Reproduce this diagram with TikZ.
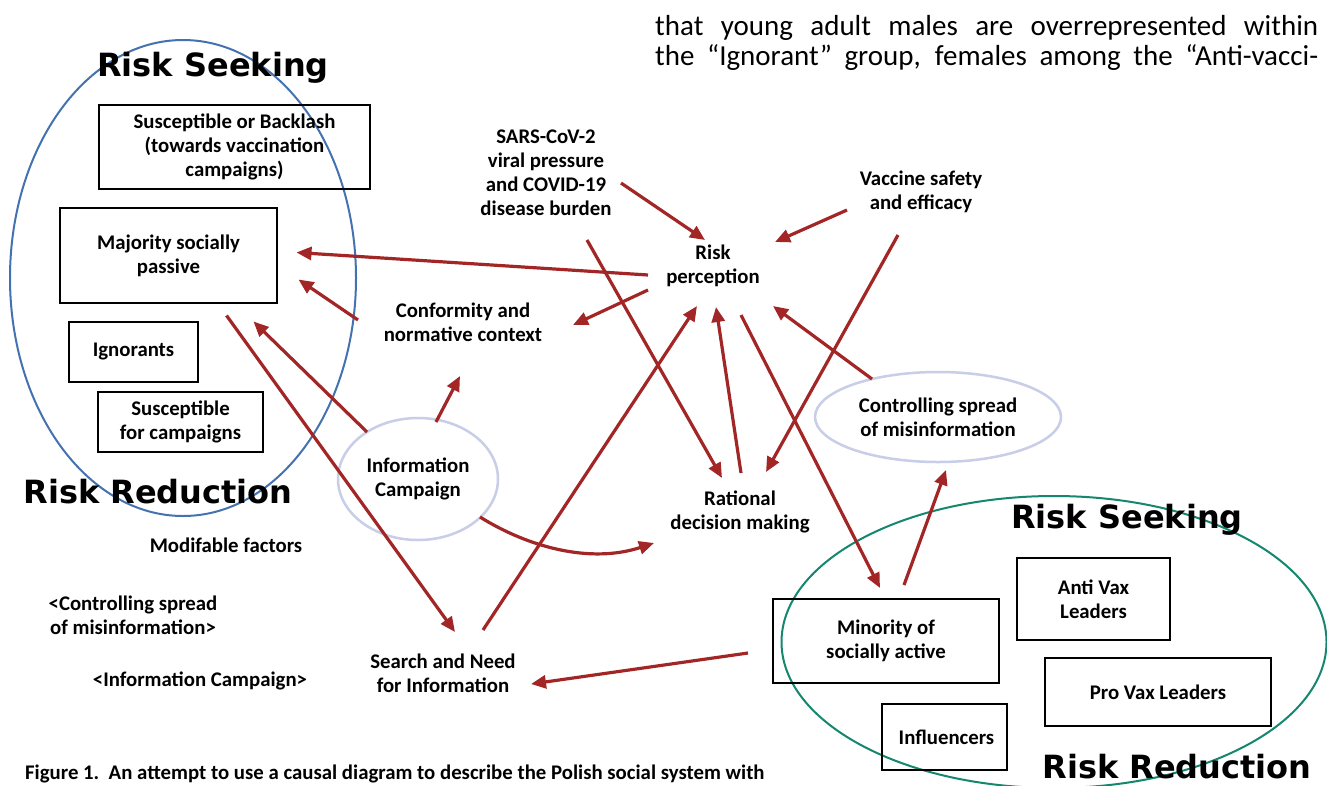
\documentclass[tikz,border=0pt]{standalone}
\usepackage{fontspec}
\setmainfont{Carlito}
\newfontfamily\vfont{DejaVu Sans}
\usetikzlibrary{arrows.meta,calc,shapes.geometric}
\definecolor{arrred}{RGB}{163,38,38}
\definecolor{blueell}{RGB}{68,114,176}
\definecolor{greenell}{RGB}{20,135,110}
\definecolor{lav}{RGB}{200,205,232}
\begin{document}
\begin{tikzpicture}[x=1pt,y=-1pt,
  lbl/.style={font=\bfseries\fontsize{20.8}{24}\selectfont, align=center, inner sep=0pt},
  box/.style={draw=black, line width=2.5pt, lbl},
  ttl/.style={font=\vfont\bfseries\fontsize{32}{36}\selectfont, inner sep=0pt},
  grp/.style={ellipse, line width=2pt, inner sep=0pt},
  oval/.style={ellipse, draw=lav, line width=2.5pt, lbl},
  arr/.style={draw=arrred, line width=3.2pt, -{Triangle[length=15pt,width=13pt]}}]
\useasboundingbox (0,0) rectangle (1327,785);
\fill[white] (0,0) rectangle (1327,785);

% groups
\node[grp, draw=blueell, minimum width=346pt, minimum height=476pt] (lgrp) at (183,278) {};
\node[grp, draw=greenell, minimum width=545pt, minimum height=292pt] (rgrp) at (1054,642) {};

% titles
\node[ttl] (rsl) at (213,68) {Risk Seeking};
\node[ttl] (rrl) at (158,492) {Risk Reduction};
\node[ttl] (rsr) at (1127,520) {Risk Seeking};
\node[ttl] (rrr) at (1177,767) {Risk Reduction};

% left boxes
\node[box, minimum width=271pt, minimum height=84pt] (ssb) at (234.5,147) {Susceptible or Backlash\\(towards vaccination\\campaigns)};
\node[box, minimum width=217pt, minimum height=95pt] (msp) at (168.5,255.5) {Majority socially\\passive};
\node[box, minimum width=129pt, minimum height=60pt] (ign) at (133.5,352) {Ignorants};
\node[box, minimum width=165pt, minimum height=60pt] (sfc) at (180.5,422) {Susceptible\\for campaigns};

% right boxes
\node[box, minimum width=226pt, minimum height=84pt] (msa) at (886,641) {Minority of\\socially active};
\node[box, minimum width=153pt, minimum height=82pt] (avl) at (1093.5,599) {Anti Vax\\Leaders};
\node[box, minimum width=226pt, minimum height=68pt] (pvl) at (1158,692) {Pro Vax Leaders};
\node[box, minimum width=125pt, minimum height=66pt] (inf) at (944.5,737) {\hspace*{4pt}Influencers};

% centre labels
\node[lbl] (sars) at (546,173) {SARS-CoV-2\\viral pressure\\and COVID-19\\disease burden};
\node[lbl] (rp) at (713,266) {Risk\\perception};
\node[lbl] (vac) at (921,192) {Vaccine safety\\and efficacy};
\node[lbl] (conf) at (463,322) {Conformity and\\normative context};
\node[lbl] (rat) at (740,512) {Rational\\decision making};
\node[lbl] (sni) at (443,673) {Search and Need\\for Information};
\node[oval, minimum width=160pt, minimum height=122pt] (ic) at (418,479) {Information\\Campaign};
\node[oval, minimum width=246pt, minimum height=90pt] (csm) at (938,417) {Controlling spread\\of misinformation};

% modifiable factors
\node[lbl] (mf) at (226,545) {Modifable factors};
\node[lbl] (mcs) at (133,615) {<Controlling spread\\of misinformation>};
\node[lbl] (mic) at (200,681) {<Information Campaign>};

% caption and running text
\node[anchor=west, font=\bfseries\fontsize{20.8}{24}\selectfont, inner sep=0pt] (cap) at (25,774) {Figure 1.\ \ An attempt to use a causal diagram to describe the Polish social system with};
\node[anchor=west, font=\fontsize{29}{30}\selectfont, inner sep=0pt] (p1) at (655,28) {\makebox[663pt][s]{that young adult males are overrepresented within}};
\node[anchor=west, font=\fontsize{29}{30}\selectfont, inner sep=0pt] (p2) at (655,58) {\makebox[663pt][s]{the “Ignorant” group, females among the “Anti-vacci-}};

% connectors
\draw[arr] ($(rp)+(-65,9)$) -- ($(msp)+(128,-3)$);
\draw[arr] ($(rp)+(-65,24)$) -- ($(conf)+(110,3)$);
\draw[arr] ($(sars)+(75,10)$) -- ($(rp)+(-8,-26)$);
\draw[arr] ($(sars)+(41,67)$) -- ($(rat)+(-18,-34)$);
\draw[arr] ($(vac)+(-74,18)$) -- ($(rp)+(62,-24)$);
\draw[arr] ($(vac)+(-23,43)$) -- ($(rat)+(26,-40)$);
\draw[arr] ($(rat)+(1,-39)$) -- ($(rp)+(3,41)$);
\draw[arr] ($(rp)+(28,49)$) -- ($(msa)+(-6,-53)$);
\draw[arr] ($(csm)+(-66,-38)$) -- ($(rp)+(60,40)$);
\draw[arr] ($(msa)+(18,-56)$) -- ($(csm)+(8,53)$);
\draw[arr] ($(msa)+(-138,12)$) -- ($(sni)+(88,11)$);
\draw[arr] ($(sni)+(40,-43)$) -- ($(rp)+(-16,40)$);
\draw[arr] ($(msp)+(58,60)$) -- ($(sni)+(12,-41)$);
\draw[arr] ($(ic)+(-51,-47)$) -- ($(msp)+(85,66)$);
\draw[arr] ($(conf)+(-105,-2)$) -- ($(msp)+(130,24)$);
\draw[arr] ($(ic)+(18,-57)$) -- ($(conf)+(-3,54)$);
\draw[arr] ($(ic)+(62,38)$) .. controls ($(ic)+(110,68)$) and ($(rat)+(-150,52)$) .. ($(rat)+(-86,31)$);
\end{tikzpicture}
\end{document}
